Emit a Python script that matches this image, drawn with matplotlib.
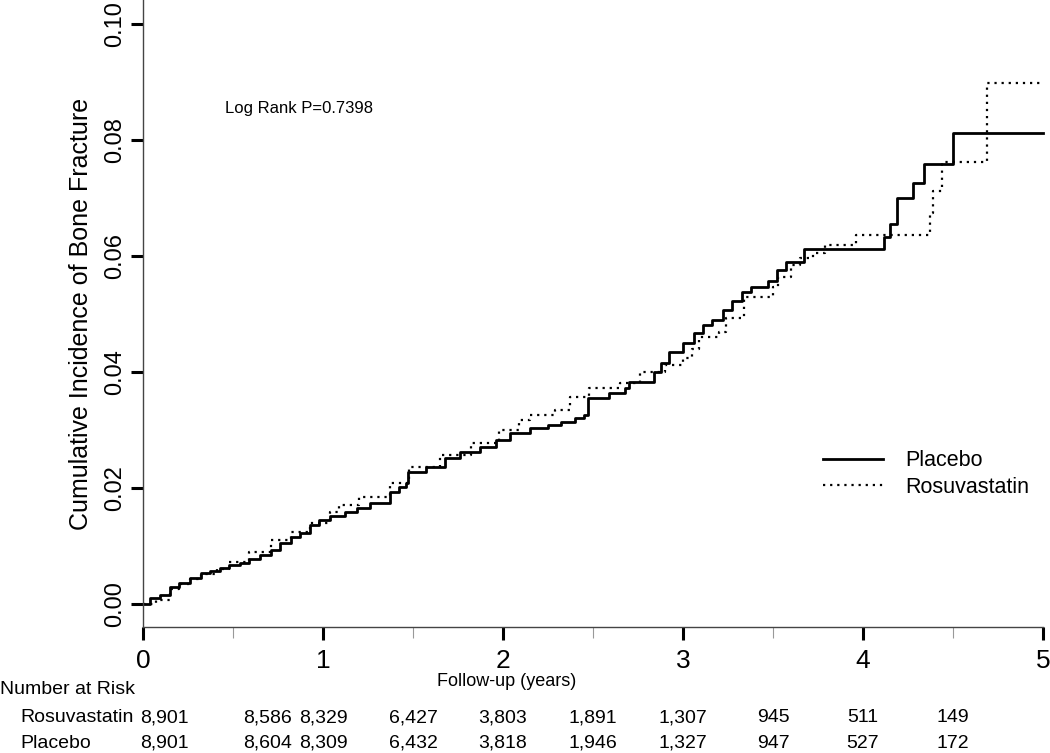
import matplotlib
matplotlib.use("Agg")
import matplotlib.pyplot as plt
import matplotlib.transforms as mtransforms
from matplotlib.ticker import MultipleLocator, FormatStrFormatter

# cumulative incidence (step functions)
placebo_t = [0.0, 0.04, 0.094, 0.15, 0.2, 0.26, 0.32, 0.37, 0.43, 0.48, 0.54, 0.59,
             0.65, 0.71, 0.76, 0.82, 0.87, 0.93, 0.98, 1.04, 1.12, 1.19, 1.26, 1.37,
             1.42, 1.46, 1.47, 1.57, 1.68, 1.76, 1.87, 1.96, 2.04, 2.15, 2.25, 2.32,
             2.40, 2.45, 2.47, 2.59, 2.68, 2.70, 2.84, 2.88, 2.92, 3.00, 3.06, 3.11,
             3.16, 3.22, 3.27, 3.33, 3.38, 3.47, 3.52, 3.57, 3.67, 4.117, 4.15, 4.19,
             4.28, 4.34, 4.50, 5.00]
placebo_ci = [0.0, 0.001, 0.0016, 0.003, 0.0036, 0.0045, 0.0053, 0.0057, 0.0062, 0.0067,
              0.0071, 0.0077, 0.0084, 0.0093, 0.0105, 0.0116, 0.0122, 0.0136, 0.0145,
              0.0152, 0.0159, 0.0166, 0.0174, 0.0193, 0.0201, 0.0209, 0.0228, 0.0236,
              0.0252, 0.0262, 0.0271, 0.0283, 0.0295, 0.0303, 0.0309, 0.0314, 0.0320,
              0.0326, 0.0355, 0.0364, 0.0372, 0.0383, 0.0400, 0.0416, 0.0434, 0.0450,
              0.0467, 0.0481, 0.0490, 0.0507, 0.0522, 0.0538, 0.0547, 0.0557, 0.0575,
              0.0590, 0.0612, 0.0632, 0.0655, 0.0700, 0.0726, 0.0759, 0.0812, 0.0812]

rosu_t = [0.0, 0.07, 0.15, 0.2, 0.26, 0.32, 0.41, 0.48, 0.59, 0.71, 0.82, 0.93, 1.04,
          1.09, 1.2, 1.37, 1.48, 1.65, 1.82, 1.98, 2.09, 2.15, 2.29, 2.37, 2.48, 2.65,
          2.76, 2.9, 3.0, 3.05, 3.09, 3.2, 3.24, 3.34, 3.5, 3.53, 3.6, 3.65, 3.72, 3.79,
          3.96, 4.37, 4.39, 4.44, 4.69, 5.0]
rosu_ci = [0.0, 0.0006, 0.0025, 0.0034, 0.0043, 0.0052, 0.006, 0.0072, 0.009, 0.011,
           0.0124, 0.014, 0.0159, 0.017, 0.0184, 0.0209, 0.0236, 0.0257, 0.0278, 0.0300,
           0.0318, 0.0326, 0.0334, 0.0357, 0.0372, 0.0381, 0.0400, 0.0412, 0.0424, 0.0440,
           0.0460, 0.0469, 0.0493, 0.0529, 0.0547, 0.0564, 0.0584, 0.0597, 0.0605, 0.0619,
           0.0636, 0.0674, 0.0712, 0.0762, 0.0898, 0.0898]

# number at risk table
risk_times = [0.12, 0.69, 1.0, 1.5, 2.0, 2.5, 3.0, 3.5, 4.0, 4.5]
risk_rosu = ["8,901", "8,586", "8,329", "6,427", "3,803", "1,891", "1,307", "945", "511", "149"]
risk_placebo = ["8,901", "8,604", "8,309", "6,432", "3,818", "1,946", "1,327", "947", "527", "172"]

plt.rcParams['font.family'] = ["Liberation Sans", "DejaVu Sans"]

fig = plt.figure(figsize=(10.5, 7.53), dpi=100)
ax = fig.add_axes([143 / 1050, 126 / 753, 900 / 1050, 627 / 753])

ax.plot(placebo_t, placebo_ci, drawstyle='steps-post', color='black', lw=2.0,
        label='Placebo', clip_on=False)
ax.plot(rosu_t, rosu_ci, drawstyle='steps-post', color='black', lw=1.6,
        linestyle=(0, (1, 2.2)), label='Rosuvastatin', clip_on=False)

ax.set_xlim(0, 5)
ax.set_ylim(-0.00397, 0.10414)

for s in ['top', 'right']:
    ax.spines[s].set_visible(False)
for s in ['left', 'bottom']:
    ax.spines[s].set_color('#444444')
    ax.spines[s].set_linewidth(1.0)

ax.xaxis.set_major_locator(MultipleLocator(1))
ax.xaxis.set_minor_locator(MultipleLocator(0.5))
ax.yaxis.set_major_locator(MultipleLocator(0.02))
ax.yaxis.set_major_formatter(FormatStrFormatter('%.2f'))
ax.tick_params(axis='both', which='major', direction='out', length=9, width=2.2, color='black')
ax.tick_params(axis='x', which='minor', direction='out', length=8, width=0.8, color='#999999')
ax.tick_params(axis='x', which='major', pad=7)
ax.tick_params(axis='y', which='major', pad=3)

for lab in ax.get_xticklabels():
    lab.set_fontsize(19)
for lab in ax.get_yticklabels():
    lab.set_fontsize(17)
    lab.set_rotation(90)
    lab.set_va('center')

ax.set_ylabel('Cumulative Incidence of Bone Fracture', fontsize=18, labelpad=8)

ax.text(0.455, 0.0855, 'Log Rank P=0.7398', fontsize=12, ha='left', va='center')

ax.legend(loc='upper left', bbox_to_anchor=(0.7556, 0.282), frameon=False,
          borderpad=0, borderaxespad=0, fontsize=15.5, handlelength=2.8,
          handletextpad=1.0, labelspacing=0.25)

# table under the axis
trans = mtransforms.blended_transform_factory(ax.transData, fig.transFigure)
fig.text(507 / 1050, 1 - 682 / 753, 'Follow-up (years)', fontsize=13, ha='center', va='center')
fig.text(0.0, 1 - 690 / 753, 'Number at Risk', fontsize=14, ha='left', va='center')
fig.text(20 / 1050, 1 - 718 / 753, 'Rosuvastatin', fontsize=14, ha='left', va='center')
fig.text(20 / 1050, 1 - 743 / 753, 'Placebo', fontsize=14, ha='left', va='center')
for t, a, b in zip(risk_times, risk_rosu, risk_placebo):
    ax.text(t, 1 - 718 / 753, a, transform=trans, fontsize=14, ha='center', va='center')
    ax.text(t, 1 - 743 / 753, b, transform=trans, fontsize=14, ha='center', va='center')

fig.savefig('out.png', dpi=100)
